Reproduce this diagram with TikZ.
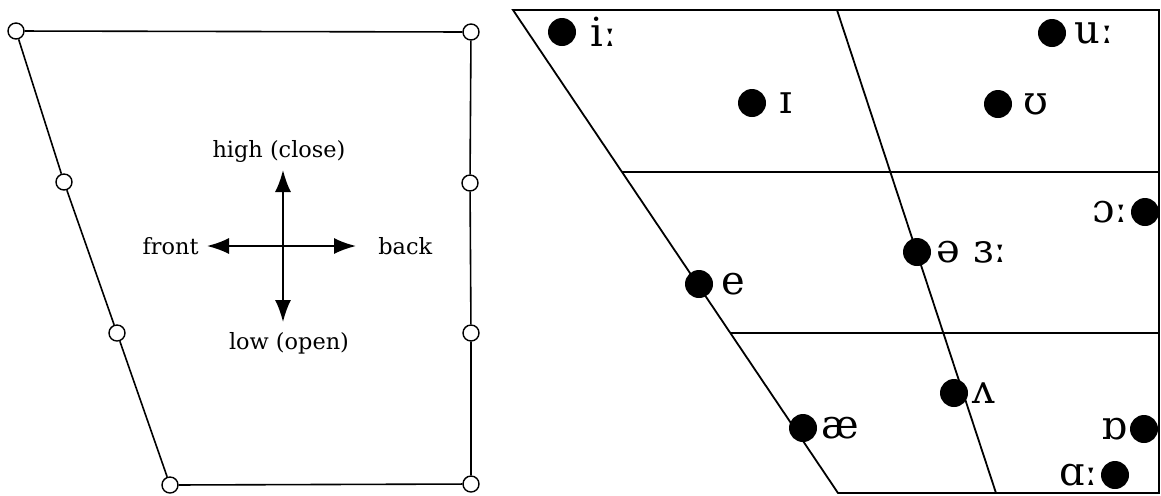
\documentclass[tikz,border=0pt]{standalone}
\usepackage{fontspec}
\setmainfont{Liberation Serif}
\newfontfamily\axisfont{DejaVu Serif}
\newfontfamily\ipafont{DejaVu Serif}
\usetikzlibrary{positioning,calc,arrows.meta}

\begin{document}
\begin{tikzpicture}[
    x=0.5pt, y=-0.5pt,
    corner/.style={circle, draw, fill=white, line width=0.7pt,
                   minimum size=8pt, inner sep=0pt},
    vowel/.style={circle, fill=black, minimum size=14pt, inner sep=0pt},
    ipa/.style={font=\ipafont\fontsize{20}{20}\selectfont, inner sep=0pt},
    axis/.style={font=\axisfont\fontsize{11.2}{12}\selectfont, inner sep=0pt},
    edge/.style={line width=0.8pt},
    grid/.style={line width=0.9pt},
    pointer/.style={line width=0.9pt, -{Latex[length=11pt, width=8pt]}}
]
    \useasboundingbox (0,0) rectangle (1161,495);

    % Trapezium with open corners
    \node[corner] (tl) at ( 16, 31) {};
    \node[corner] (tr) at (471, 32) {};
    \node[corner] (l1) at ( 64,182) {};
    \node[corner] (r1) at (470,183) {};
    \node[corner] (l2) at (117,333) {};
    \node[corner] (r2) at (471,333) {};
    \node[corner] (bl) at (170,485) {};
    \node[corner] (br) at (471,484) {};
    \draw[edge] (tl) -- (tr) -- (r1) -- (r2) -- (br) -- (bl) -- (l2) -- (l1) -- (tl);

    % Axes
    \coordinate (hub)  at (283,246);
    \coordinate (up)   at (283,170);
    \coordinate (down) at (283,322);
    \coordinate (fr)   at (207,246);
    \coordinate (bk)   at (356,246);
    \draw[pointer] (hub) -- (up);
    \draw[pointer] (hub) -- (down);
    \draw[pointer] (hub) -- (fr);
    \draw[pointer] (hub) -- (bk);
    \node[axis, above=3.5pt of up, xshift=-2pt] (high) {high (close)};
    \node[axis, below=5pt of down, xshift=3pt] (low) {low (open)};
    \node[axis, left=4pt of fr] (front) {front};
    \node[axis, right=11pt of bk] (back) {back};

    % Vowel chart frame
    \coordinate (A) at ( 513, 10);
    \coordinate (B) at (1159, 10);
    \coordinate (C) at (1159,493);
    \coordinate (D) at ( 838,493);
    \coordinate (M) at ( 837, 10);
    \coordinate (N) at ( 996,493);
    \coordinate (h1l) at ($(A)!0.3354!(D)$);
    \coordinate (h1r) at (1159,172);
    \coordinate (h2l) at ($(A)!0.6687!(D)$);
    \coordinate (h2r) at (1159,333);
    \draw[grid] (D) -- (A) -- (B) -- (C) -- cycle;
    \draw[grid] (M) -- (N);
    \draw[grid] (h1l) -- (h1r);
    \draw[grid] (h2l) -- (h2r);

    % Vowels
    \node[vowel] (dIy) at ( 562, 32) {};
    \node[vowel] (dUw) at (1052, 33) {};
    \node[vowel] (dI)  at ( 752,103) {};
    \node[vowel] (dU)  at ( 998,104) {};
    \node[vowel] (dOr) at (1145,212) {};
    \node[vowel] (dEr) at ( 917,252) {};
    \node[vowel] (dE)  at ( 699,284) {};
    \node[vowel] (dV)  at ( 954,393) {};
    \node[vowel] (dAe) at ( 803,428) {};
    \node[vowel] (dQ)  at (1144,429) {};
    \node[vowel] (dAr) at (1115,475) {};

    \node[ipa, right=7pt of dIy]   (lIy) {iː};
    \node[ipa, right=4pt of dUw]   (lUw) {uː};
    \node[ipa, right=6.5pt of dI]  (lI)  {ɪ};
    \node[ipa, right=5.5pt of dU]  (lU)  {ʊ};
    \node[ipa, left=1pt of dOr]    (lOr) {ɔː};
    \node[ipa, right=2.5pt of dEr] (lEr) {ə ɜː};
    \node[ipa, right=4pt of dE]    (lE)  {e};
    \node[ipa, right=2pt of dV]    (lV)  {ʌ};
    \node[ipa, right=2pt of dAe]   (lAe) {æ};
    \node[ipa, left=1pt of dQ]     (lQ)  {ɒ};
    \node[ipa, left=1pt of dAr]    (lAr) {ɑː};
\end{tikzpicture}
\end{document}
